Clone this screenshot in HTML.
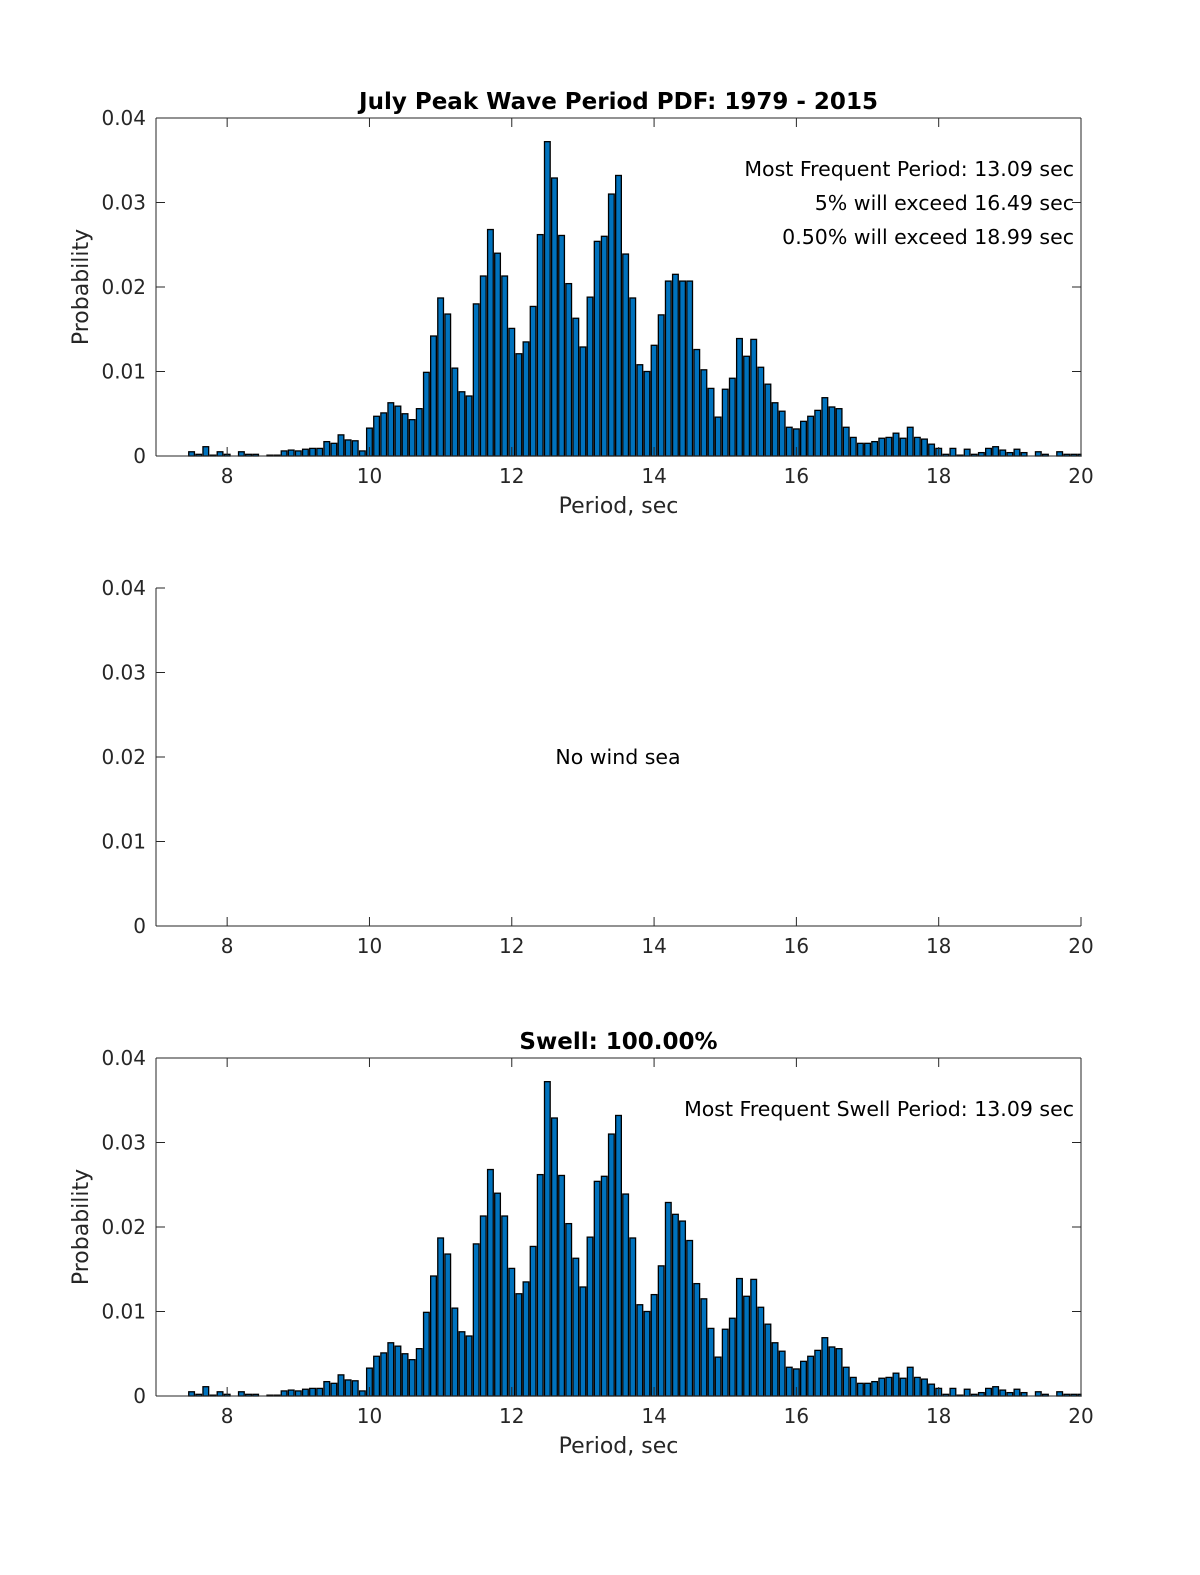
<!DOCTYPE html>
<html><head><meta charset="utf-8">
<style>
html,body{margin:0;padding:0;background:#fff;overflow:hidden;width:1200px;height:1575px;}
svg{display:block;font-family:"DejaVu Sans","Liberation Sans",sans-serif;}
</style></head>
<body>
<svg id="fig" width="1200" height="1575" viewBox="0 0 1200 1575" xmlns="http://www.w3.org/2000/svg">
<rect width="1200" height="1575" fill="#fff"/>
</svg>
<script>
const xStart = 7.5, binStep = 0.1;
const totalValues = [0.0005,0.0002,0.0011,0.0001,0.0005,0.0002,0,0.0005,0.0002,0.0002,0,0.0001,0.0001,0.0006,0.0007,0.0006,0.0008,0.0009,0.0009,0.0017,0.0015,0.0025,0.0019,0.0018,0.0006,
0.0033,0.0047,0.0051,0.0063,0.0059,0.0050,0.0043,0.0056,0.0099,0.0142,0.0187,0.0168,0.0104,0.0076,0.0071,
0.0180,0.0213,0.0268,0.0240,0.0213,0.0151,0.0121,0.0135,0.0177,0.0262,0.0372,0.0329,0.0261,0.0204,0.0163,
0.0129,0.0188,0.0254,0.0260,0.0310,0.0332,0.0239,0.0187,0.0108,0.0100,0.0131,0.0167,0.0207,0.0215,0.0207,
0.0207,0.0126,0.0102,0.0080,0.0046,0.0079,0.0092,0.0139,0.0118,0.0138,0.0105,0.0085,0.0063,0.0053,0.0034,
0.0032,0.0041,0.0047,0.0054,0.0069,0.0058,0.0056,0.0034,0.0022,0.0015,0.0015,0.0017,0.0021,0.0022,0.0027,
0.0021,0.0034,0.0022,0.0020,0.0014,0.0009,0.0002,0.0009,0.0001,0.0008,0.0002,0.0004,0.0009,0.0011,0.0007,
0.0004,0.0008,0.0004,0,0.0005,0.0002,0,0.0005,0.0002,0.0002,0.0002];
const swellValues = totalValues.slice();
const swellOverrides = [[14.0,0.0120],[14.1,0.0154],[14.2,0.0229],[14.3,0.0215],[14.4,0.0207],[14.5,0.0184],[14.6,0.0133],[14.7,0.0115]];
const xTicks = [8,10,12,14,16,18,20];
const yTicks = [0,0.01,0.02,0.03,0.04];
const yTickLabels = ["0","0.01","0.02","0.03","0.04"];

swellOverrides.forEach(([p,v])=>{swellValues[Math.round((p-xStart)/binStep)] = v;});

const NS="http://www.w3.org/2000/svg";
const svg=document.getElementById('fig');
const L=156,R=1081,xMin=7,xMax=20,yMax=0.04;
function mk(tag,attrs,parent){const e=document.createElementNS(NS,tag);for(const k in attrs)e.setAttribute(k,attrs[k]);(parent||svg).appendChild(e);return e;}
function xs(v){return L+(v-xMin)/(xMax-xMin)*(R-L);}

function panel(top,bottom,values,opts){
  const g=mk('g',{});
  
  
  const ys=v=>bottom-v/yMax*(bottom-top);
  if(values){
    const bw=(xs(0.08)-xs(0));
    values.forEach((v,i)=>{
      const c=xStart+i*binStep;
      const x0=Math.max(xs(c)-bw/2,L), x1=Math.min(xs(c)+bw/2,R);
      const r=mk('rect',{x:x0,y:ys(v),width:x1-x0,height:Math.max(bottom-ys(v),0),fill:'#0072BD',stroke:'#000','stroke-width':1.3},g);
      
      
    });
  }
  const ax=mk('g',{stroke:'#262626','stroke-width':1,fill:'none'},g);
  
  
  mk('line',{x1:L,y1:top,x2:L,y2:bottom},ax);
  mk('line',{x1:L,y1:bottom,x2:R,y2:bottom},ax);
  if(opts.box){mk('line',{x1:L,y1:top,x2:R,y2:top},ax);mk('line',{x1:R,y1:top,x2:R,y2:bottom},ax);}
  xTicks.forEach(t=>{
    const x=xs(t);
    mk('line',{x1:x,y1:bottom,x2:x,y2:bottom-9},ax);
    if(opts.box) mk('line',{x1:x,y1:top,x2:x,y2:top+9},ax);
    const tx=mk('text',{x:x,y:bottom+27,'text-anchor':'middle','font-size':20,fill:'#262626'},g);
    tx.textContent=t;
    
    
  });
  yTicks.forEach((t,i)=>{
    const y=ys(t);
    mk('line',{x1:L,y1:y,x2:L+9,y2:y},ax);
    if(opts.box) mk('line',{x1:R,y1:y,x2:R-9,y2:y},ax);
    const tx=mk('text',{x:L-10,y:y+7,'text-anchor':'end','font-size':20,fill:'#262626'},g);
    tx.textContent=yTickLabels[i];
    
    
  });
  if(opts.title){const t=mk('text',{x:(L+R)/2,y:top-9,'text-anchor':'middle','font-size':23,'font-weight':'bold',fill:'#000'},g);t.textContent=opts.title;}
  if(opts.ylabel){const t=mk('text',{x:0,y:0,transform:`translate(88,${(top+bottom)/2}) rotate(-90)`,'text-anchor':'middle','font-size':22,fill:'#262626'},g);t.textContent=opts.ylabel;}
  if(opts.xlabel){const t=mk('text',{x:(L+R)/2,y:bottom+57,'text-anchor':'middle','font-size':22,fill:'#262626'},g);t.textContent=opts.xlabel;}
  (opts.notes||[]).forEach((n,i)=>{const t=mk('text',{x:n.x,y:n.y,'text-anchor':n.anchor,'font-size':20.5,fill:'#000'},g);t.textContent=n.text;});
}

panel(118,456,totalValues,{name:'total-pdf-chart',box:true,title:'July Peak Wave Period PDF: 1979 - 2015',ylabel:'Probability',xlabel:'Period, sec',
  notes:[{x:1074,y:176,anchor:'end',text:'Most Frequent Period: 13.09 sec',name:'most-frequent-note'},
         {x:1074,y:210,anchor:'end',text:'5% will exceed 16.49 sec',name:'exceed-5-note'},
         {x:1074,y:244,anchor:'end',text:'0.50% will exceed 18.99 sec',name:'exceed-05-note'}]});
panel(588,926,null,{name:'wind-sea-chart',box:false,
  notes:[{x:618,y:764,anchor:'middle',text:'No wind sea',name:'no-wind-sea-note'}]});
panel(1058,1396,swellValues,{name:'swell-pdf-chart',box:true,title:'Swell: 100.00%',ylabel:'Probability',xlabel:'Period, sec',
  notes:[{x:1074,y:1116,anchor:'end',text:'Most Frequent Swell Period: 13.09 sec',name:'most-frequent-swell-note'}]});
</script>
</body></html>
